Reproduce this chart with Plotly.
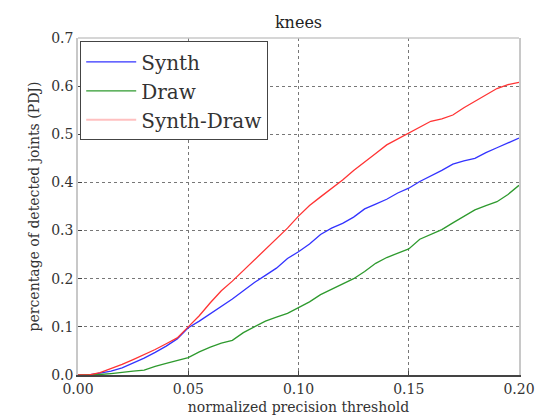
import plotly.graph_objects as go

thresholds = [0.000, 0.005, 0.010, 0.015, 0.020, 0.025, 0.030, 0.035, 0.040, 0.045,
              0.050, 0.055, 0.060, 0.065, 0.070, 0.075, 0.080, 0.085, 0.090, 0.095,
              0.100, 0.105, 0.110, 0.115, 0.120, 0.125, 0.130, 0.135, 0.140, 0.145,
              0.150, 0.155, 0.160, 0.165, 0.170, 0.175, 0.180, 0.185, 0.190, 0.195, 0.200]

synth = [0, 0, 0.004, 0.008, 0.015, 0.025, 0.035, 0.047, 0.060, 0.075,
         0.098, 0.112, 0.127, 0.142, 0.158, 0.175, 0.192, 0.207, 0.222, 0.242,
         0.256, 0.272, 0.292, 0.305, 0.315, 0.328, 0.345, 0.355, 0.365, 0.378,
         0.388, 0.402, 0.413, 0.425, 0.438, 0.445, 0.450, 0.462, 0.472, 0.482, 0.492]

draw = [0, 0, 0.001, 0.003, 0.006, 0.008, 0.010, 0.018, 0.024, 0.030,
        0.036, 0.048, 0.058, 0.066, 0.072, 0.088, 0.100, 0.112, 0.120, 0.128,
        0.140, 0.152, 0.167, 0.178, 0.190, 0.200, 0.215, 0.232, 0.244, 0.253,
        0.262, 0.282, 0.292, 0.302, 0.316, 0.330, 0.343, 0.352, 0.360, 0.375, 0.394]

synth_draw = [0, 0, 0.005, 0.013, 0.022, 0.032, 0.042, 0.053, 0.065, 0.077,
              0.100, 0.123, 0.150, 0.175, 0.195, 0.217, 0.240, 0.262, 0.283, 0.305,
              0.330, 0.352, 0.370, 0.388, 0.405, 0.425, 0.442, 0.460, 0.478, 0.490,
              0.502, 0.515, 0.527, 0.532, 0.540, 0.555, 0.568, 0.582, 0.595, 0.603, 0.608]

x_ticks = [0.00, 0.05, 0.10, 0.15, 0.20]
x_labels = ["0.00", "0.05", "0.10", "0.15", "0.20"]
y_ticks = [0.0, 0.1, 0.2, 0.3, 0.4, 0.5, 0.6, 0.7]
y_labels = ["0.0", "0.1", "0.2", "0.3", "0.4", "0.5", "0.6", "0.7"]

serif = "DejaVu Serif, Liberation Serif, serif"

fig = go.Figure()
fig.add_trace(go.Scatter(x=thresholds, y=synth, mode="lines", name="Synth",
                         line=dict(color="#3333ff", width=1.3)))
fig.add_trace(go.Scatter(x=thresholds, y=draw, mode="lines", name="Draw",
                         line=dict(color="#2e9a2e", width=1.3)))
fig.add_trace(go.Scatter(x=thresholds, y=synth_draw, mode="lines", name="Synth-Draw",
                         showlegend=False, legendgroup="sd",
                         line=dict(color="#ff3333", width=1.3)))
# legend entry for Synth-Draw drawn in the pale tone seen in the reference legend
fig.add_trace(go.Scatter(x=[None], y=[None], mode="lines", name="Synth-Draw",
                         legendgroup="sd", hoverinfo="skip",
                         line=dict(color="#ffc0c0", width=2)))

fig.update_layout(
    width=543, height=417,
    margin=dict(l=70, r=32, t=30, b=45),
    paper_bgcolor="white", plot_bgcolor="white",
    title=dict(text="knees", x=0.535, xanchor="center", y=0.965, yanchor="middle",
               font=dict(family=serif, size=16, color="#222")),
    font=dict(family=serif, size=14, color="#333"),
    legend=dict(x=0.005, y=0.99, xanchor="left", yanchor="top",
                bgcolor="white", bordercolor="#444", borderwidth=1,
                font=dict(family=serif, size=20, color="#333"),
                itemwidth=50, tracegroupgap=0),
    showlegend=True,
)
fig.update_xaxes(range=[0, 0.2], tickvals=x_ticks, ticktext=x_labels,
                 showgrid=True, gridcolor="#777", griddash="dot", gridwidth=1,
                 showline=True, linecolor="#444", linewidth=2, mirror=False,
                 zeroline=False, ticks="inside", ticklen=4, tickcolor="#444",
                 title=dict(text="normalized precision threshold", standoff=6,
                            font=dict(family=serif, size=14, color="#333")))
fig.update_yaxes(range=[0, 0.7], tickvals=y_ticks, ticktext=y_labels,
                 showgrid=True, gridcolor="#777", griddash="dot", gridwidth=1,
                 showline=True, linecolor="#c8c8c8", linewidth=1.5, mirror=True,
                 zeroline=False, ticks="inside", ticklen=4, tickcolor="#444",
                 title=dict(text="percentage of detected joints (PDJ)", standoff=8,
                            font=dict(family=serif, size=14, color="#333")))
fig.add_shape(type="line", xref="paper", yref="paper", x0=0, x1=1, y0=1, y1=1,
              line=dict(color="#c8c8c8", width=1.5))

fig.write_html("out.html")
